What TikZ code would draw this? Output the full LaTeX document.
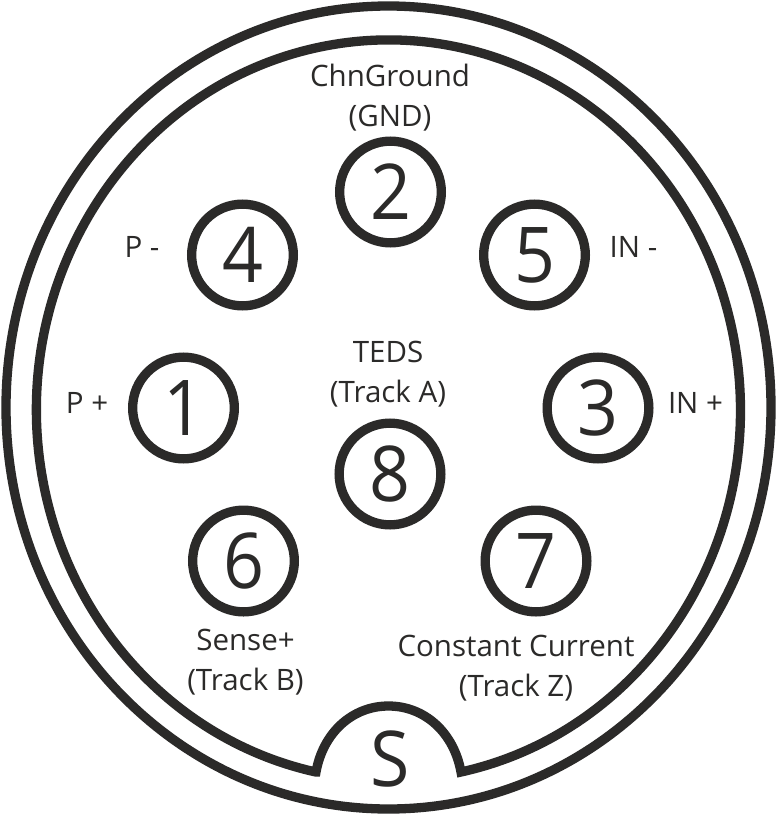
\documentclass[tikz,border=0pt]{standalone}
\usepackage{fontspec}
\setmainfont{Open Sans}
\newfontfamily\digitfont[FakeStretch=0.93]{Open Sans}
\definecolor{ink}{HTML}{2B2A29}
\tikzset{
 pin/.style={circle,draw=ink,text=ink,line width=9.3pt,minimum size=101.7pt,inner sep=0pt,font=\digitfont\fontsize{77}{77}\selectfont},
 keytext/.style={inner sep=0pt,text=ink,font=\digitfont\fontsize{77}{77}\selectfont},
 lab/.style={font=\fontsize{29.5}{40}\selectfont,align=center,inner sep=0pt,text=ink},
 ring/.style={draw=ink,line width=9.3pt,line join=miter}
}
\begin{document}
\begin{tikzpicture}[x=1pt,y=-1pt]
\useasboundingbox (0,0) rectangle (777,816);
\fill[white] (0,0) rectangle (777,816);
\draw[ring] (388.5,407.5) ellipse [x radius=382.5,y radius=401.5];
\coordinate (kl) at (316,772);
\coordinate (kt) at (388.5,706);
\coordinate (kr) at (461,772);
\draw[ring] (kl) .. controls (323,733) and (352,706) .. (kt)
  .. controls (425,706) and (454,733) .. (kr)
  arc[start angle=78.1,end angle=-258.1,x radius=352,y radius=370] -- cycle;
\node[pin] (p2) at (390.5,192) {2};
\node[pin] (p4) at (242.5,255) {4};
\node[pin] (p5) at (534.5,255) {5};
\node[pin] (p1) at (183.5,408) {1};
\node[pin] (p3) at (598,408) {3};
\node[pin] (p8) at (390,474) {8};
\node[pin] (p6) at (243.5,561) {6};
\node[pin] (p7) at (536,561) {7};
\node[keytext] (s) at (390,759) {S};
\node[lab] (l2) at (390,98) {ChnGround\\(GND)};
\node[lab] (l4) at (142,246.5) {P -};
\node[lab] (l5) at (633.5,246.5) {IN -};
\node[lab] (l1) at (87,402.5) {P +};
\node[lab] (l3) at (695.5,402.5) {IN +};
\node[lab] (l8) at (388,374) {TEDS\\(Track A)};
\node[lab] (l6) at (245.5,662) {Sense+\\(Track B)};
\node[lab] (l7) at (516,668) {Constant Current\\(Track Z)};
\end{tikzpicture}
\end{document}
